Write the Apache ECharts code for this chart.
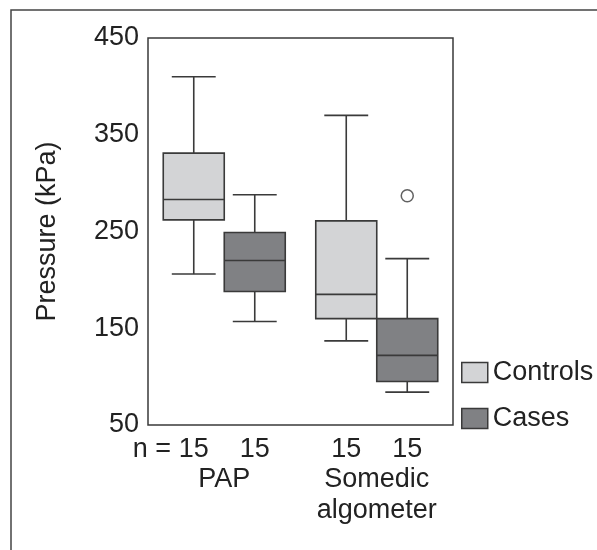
<!DOCTYPE html>
<html>
<head>
<meta charset="utf-8">
<script src="https://cdn.jsdelivr.net/npm/echarts@6/dist/echarts.min.js"></script>
<style>
    html, body { margin: 0; padding: 0; background: #fff; }
    #chart { width: 597px; height: 550px; }
</style>
</head>
<body>
<div id="chart"></div>
<script>
// groups along the x axis
var groups = ['PAP', 'Somedic\nalgometer'];

// box stats per group: [min, Q1, median, Q3, max]  (kPa)
var controls = [
    [206, 262, 283, 331, 410],
    [137, 160, 185, 261, 370]
];
var cases = [
    [157, 188, 220, 249, 288],
    [84, 95, 122, 160, 222]
];
// outliers: [groupIndex, value]
var casesOutliers = [
    [1, 287]
];
var nControls = [15, 15];
var nCases = [15, 15];

var yTicks = [50, 150, 250, 350, 450];

var FONT = '"Liberation Sans", Arial, sans-serif';
var TEXT = '#222';
var LINE = '#3a3a3a';
var OFFSET = 0.2;      // box offset from group centre (x units)
var BOX_W = 0.4;       // box width (x units)
var CAP = 0.72;        // whisker cap width relative to box

var chart = echarts.init(document.getElementById('chart'));

function buildBoxes(stats, side) {
    return stats.map(function (s, i) {
        return [i + 1 + side * OFFSET].concat(s);
    });
}

var boxPositions = [];
var boxCounts = [];
groups.forEach(function (g, i) {
    boxPositions.push(i + 1 - OFFSET, i + 1 + OFFSET);
    boxCounts.push(nControls[i], nCases[i]);
});

function renderBox(params, api) {
    var x = api.value(0);
    var lo = api.coord([x, api.value(1)]);
    var q1 = api.coord([x, api.value(2)]);
    var med = api.coord([x, api.value(3)]);
    var q3 = api.coord([x, api.value(4)]);
    var hi = api.coord([x, api.value(5)]);
    var w = api.size([BOX_W, 0])[0];
    var cw = w * CAP;
    var ls = { stroke: LINE, lineWidth: 1.6 };
    return {
        type: 'group',
        children: [
            { type: 'line', shape: { x1: hi[0], y1: hi[1], x2: q3[0], y2: q3[1] }, style: ls },
            { type: 'line', shape: { x1: q1[0], y1: q1[1], x2: lo[0], y2: lo[1] }, style: ls },
            { type: 'line', shape: { x1: hi[0] - cw / 2, y1: hi[1], x2: hi[0] + cw / 2, y2: hi[1] }, style: ls },
            { type: 'line', shape: { x1: lo[0] - cw / 2, y1: lo[1], x2: lo[0] + cw / 2, y2: lo[1] }, style: ls },
            {
                type: 'rect',
                shape: { x: q3[0] - w / 2, y: q3[1], width: w, height: q1[1] - q3[1] },
                style: { fill: api.visual('color'), stroke: LINE, lineWidth: 1.6 }
            },
            { type: 'line', shape: { x1: med[0] - w / 2, y1: med[1], x2: med[0] + w / 2, y2: med[1] }, style: ls }
        ]
    };
}

var option = {
    backgroundColor: '#fff',
    animation: false,
    textStyle: { fontFamily: FONT, color: TEXT },
    graphic: [{
        type: 'rect',
        shape: { x: 11, y: 10, width: 700, height: 700 },
        style: { fill: 'none', stroke: '#444', lineWidth: 1.5 },
        silent: true
    }],
    grid: {
        left: 148, top: 38, right: 144, bottom: 125,
        show: true, borderColor: LINE, borderWidth: 1.5, backgroundColor: 'transparent'
    },
    legend: {
        orient: 'vertical',
        left: 461,
        top: 359,
        padding: 0,
        itemWidth: 26,
        itemHeight: 20,
        itemGap: 19,
        icon: 'rect',
        textStyle: { fontSize: 27, color: TEXT, fontFamily: FONT },
        data: [
            { name: 'Controls', itemStyle: { color: '#d3d4d6', borderColor: LINE, borderWidth: 1.5 } },
            { name: 'Cases', itemStyle: { color: '#808184', borderColor: LINE, borderWidth: 1.5 } }
        ]
    },
    xAxis: [
        {
            type: 'value',
            min: 0.5,
            max: 2.5,
            position: 'bottom',
            axisLine: { show: false },
            axisTick: { show: false },
            splitLine: { show: false },
            axisLabel: {
                customValues: boxPositions,
                margin: 11,
                fontSize: 27,
                color: TEXT,
                fontFamily: FONT,
                formatter: function (value) {
                    var i = -1;
                    for (var k = 0; k < boxPositions.length; k++) {
                        if (Math.abs(boxPositions[k] - value) < 1e-6) i = k;
                    }
                    var n = String(boxCounts[i]);
                    return i === 0 ? '{pre|n = }' + n + '{pad|}' : n;
                },
                rich: {
                    pre: { fontSize: 27, fontFamily: FONT, color: TEXT },
                    pad: { width: 46, fontSize: 27 }
                }
            }
        },
        {
            type: 'value',
            min: 0.5,
            max: 2.5,
            position: 'bottom',
            axisLine: { show: false },
            axisTick: { show: false },
            splitLine: { show: false },
            axisLabel: {
                customValues: [1, 2],
                margin: 39,
                fontSize: 27,
                lineHeight: 31,
                color: TEXT,
                fontFamily: FONT,
                formatter: function (value) {
                    return groups[Math.round(value) - 1];
                }
            }
        }
    ],
    yAxis: {
        type: 'value',
        min: 50,
        max: 450,
        interval: 50,
        name: 'Pressure (kPa)',
        nameLocation: 'middle',
        nameGap: 87,
        nameTextStyle: { fontSize: 27, color: TEXT, fontFamily: FONT },
        axisLine: { show: false },
        axisTick: { show: false },
        splitLine: { show: false },
        axisLabel: {
            margin: 9,
            fontSize: 27,
            color: TEXT,
            fontFamily: FONT,
            formatter: function (v) {
                return yTicks.indexOf(v) >= 0 ? String(v) : '';
            }
        }
    },
    series: [
        {
            name: 'Controls',
            type: 'custom',
            xAxisIndex: 0,
            itemStyle: { color: '#d3d4d6' },
            renderItem: renderBox,
            encode: { x: 0, y: [1, 2, 3, 4, 5] },
            data: buildBoxes(controls, -1)
        },
        {
            name: 'Cases',
            type: 'custom',
            xAxisIndex: 0,
            itemStyle: { color: '#808184' },
            renderItem: renderBox,
            encode: { x: 0, y: [1, 2, 3, 4, 5] },
            data: buildBoxes(cases, 1)
        },
        {
            name: 'outliers',
            type: 'scatter',
            xAxisIndex: 0,
            symbol: 'circle',
            symbolSize: 12,
            itemStyle: { color: '#fff', borderColor: LINE, borderWidth: 1.5 },
            data: casesOutliers.map(function (o) {
                return [o[0] + 1 + OFFSET, o[1]];
            })
        }
    ]
};

chart.setOption(option);
</script>
</body>
</html>
